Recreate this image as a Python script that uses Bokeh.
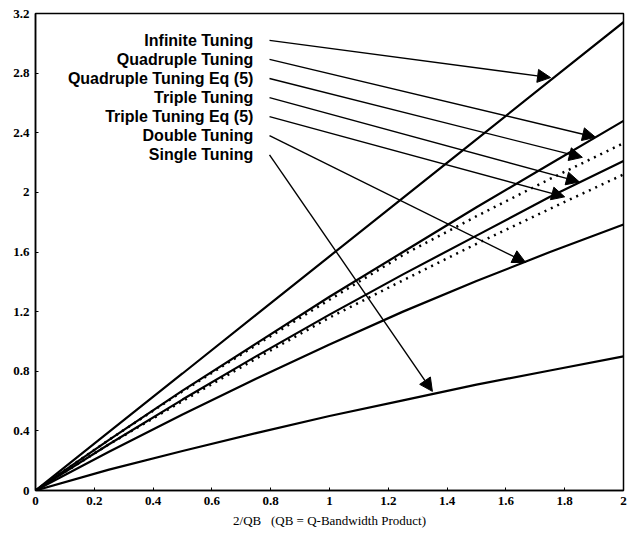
from bokeh.plotting import figure
from bokeh.models import Arrow, NormalHead, Range1d, FixedTicker, ColumnDataSource
from bokeh.embed import file_html
from bokeh.resources import INLINE
from bokeh.core.properties import value

# ---- data ----
x_vals = [0, 0.25, 0.5, 0.75, 1.0, 1.25, 1.5, 1.75, 2.0]
infinite_tuning = [0, 0.393, 0.785, 1.178, 1.571, 1.963, 2.356, 2.749, 3.142]
quadruple_tuning = [0, 0.34, 0.67, 0.985, 1.30, 1.60, 1.90, 2.19, 2.48]
quadruple_eq5 = [0, 0.34, 0.665, 0.975, 1.28, 1.58, 1.84, 2.09, 2.33]
triple_tuning = [0, 0.31, 0.61, 0.90, 1.18, 1.45, 1.71, 1.97, 2.21]
triple_eq5 = [0, 0.31, 0.60, 0.885, 1.16, 1.41, 1.655, 1.89, 2.12]
double_tuning = [0, 0.26, 0.51, 0.75, 0.98, 1.20, 1.405, 1.60, 1.785]
single_tuning = [0, 0.14, 0.265, 0.385, 0.50, 0.605, 0.71, 0.805, 0.90]

labels = ["Infinite Tuning", "Quadruple Tuning", "Quadruple Tuning Eq (5)",
          "Triple Tuning", "Triple Tuning Eq (5)", "Double Tuning", "Single Tuning"]
arrow_end_x = [1.752, 1.905, 1.86, 1.85, 1.80, 1.667, 1.35]
arrow_end_y = [2.77, 2.37, 2.235, 2.07, 1.97, 1.53, 0.665]

x_ticks = [0, 0.2, 0.4, 0.6, 0.8, 1.0, 1.2, 1.4, 1.6, 1.8, 2.0]
x_tick_labels = ["0", "0.2", "0.4", "0.6", "0.8", "1", "1.2", "1.4", "1.6", "1.8", "2"]
y_ticks = [0, 0.4, 0.8, 1.2, 1.6, 2.0, 2.4, 2.8, 3.2]
y_tick_labels = ["0", "0.4", "0.8", "1.2", "1.6", "2", "2.4", "2.8", "3.2"]

# ---- figure ----
p = figure(width=632, height=536, output_backend="svg", toolbar_location=None,
           x_range=Range1d(0, 2), y_range=Range1d(0, 3.2),
           min_border_left=35, min_border_right=9, min_border_top=13, min_border_bottom=46)
p.background_fill_color = "white"
p.border_fill_color = "white"
p.outline_line_color = "black"
p.outline_line_width = 1.5
p.grid.visible = False

p.xaxis.ticker = FixedTicker(ticks=x_ticks)
p.yaxis.ticker = FixedTicker(ticks=y_ticks)
p.xaxis.major_label_overrides = {t: l for t, l in zip(x_ticks, x_tick_labels)}
p.yaxis.major_label_overrides = {t: l for t, l in zip(y_ticks, y_tick_labels)}
for ax in (p.xaxis, p.yaxis):
    ax.major_label_text_font = "Liberation Serif"
    ax.major_label_text_font_size = "13px"
    ax.major_label_text_font_style = "bold"
    ax.major_label_text_color = "black"
    ax.axis_line_color = "black"
    ax.axis_line_width = 1.5
    ax.major_tick_in = 3
    ax.major_tick_out = 0
    ax.minor_tick_in = 0
    ax.minor_tick_out = 0
    ax.major_label_standoff = 6
p.xaxis.axis_label = "2/QB\u00a0\u00a0\u00a0(QB = Q-Bandwidth Product)"
p.xaxis.axis_label_text_font = "Liberation Serif"
p.xaxis.axis_label_text_font_style = "normal"
p.xaxis.axis_label_text_font_size = "13px"
p.xaxis.axis_label_text_color = "black"
p.xaxis.axis_label_standoff = 5

src = ColumnDataSource(dict(x=x_vals, inf=infinite_tuning, quad=quadruple_tuning,
                            quad5=quadruple_eq5, tri=triple_tuning, tri5=triple_eq5,
                            dbl=double_tuning, sgl=single_tuning))
for col in ["inf", "quad", "tri", "dbl", "sgl"]:
    p.line("x", col, source=src, line_color="black", line_width=2.2)
for col in ["quad5", "tri5"]:
    p.line("x", col, source=src, line_color="black", line_width=2.5, line_dash="2 5")

# labels and arrows
label_top = 3.02
label_step = 0.128
label_x = 0.741
arrow_start_x = 0.796
label_y = [label_top - i * label_step for i in range(len(labels))]
p.text(x=[label_x] * len(labels), y=label_y, text=labels,
       text_font=value("Liberation Sans"), text_font_style="bold",
       text_font_size="16px", text_align="right", text_baseline="middle",
       text_color="black")
for ly, ex, ey in zip(label_y, arrow_end_x, arrow_end_y):
    p.add_layout(Arrow(end=NormalHead(size=13, fill_color="black", line_color="black"),
                       x_start=arrow_start_x, y_start=ly, x_end=ex, y_end=ey,
                       line_color="black", line_width=1.4))

open("out.html", "w").write(file_html(p, INLINE))
